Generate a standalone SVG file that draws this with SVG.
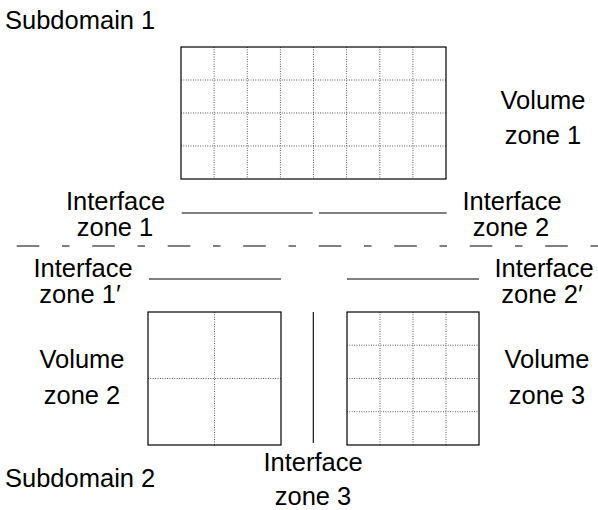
<svg xmlns="http://www.w3.org/2000/svg" width="598" height="510" viewBox="0 0 598 510">
  <style>
    .lbl { font-family: "Liberation Sans", Arial, sans-serif; font-size: 25.5px; fill: #000; }
    .mid { text-anchor: middle; }
    .frame { fill: #fff; stroke: #000; stroke-width: 1.2; }
    .grid { fill: none; stroke: #000; stroke-width: 0.8; stroke-dasharray: 0.8 1.6; }
    .iface { stroke: #000; stroke-width: 1.1; fill: none; }
    .cut { stroke: #000; stroke-width: 1.1; fill: none; stroke-dasharray: 22.6 22.7 7.5 22.7; }
  </style>

  <!-- Subdomain 1: volume zone 1 with 8x4 cells -->
  <g id="volume-zone-1">
    <rect class="frame" x="181" y="47" width="265" height="132"/>
    <path class="grid" d="M214.1 47V179M247.3 47V179M280.4 47V179M313.5 47V179M346.6 47V179M379.8 47V179M412.9 47V179M181 80H446M181 113H446M181 146H446"/>
    <text class="lbl mid" x="543" y="109">Volume</text>
    <text class="lbl mid" x="543" y="144">zone 1</text>
  </g>

  <g id="subdomain-1"><text class="lbl" x="5" y="29">Subdomain 1</text></g>

  <g id="interface-zone-1">
    <text class="lbl mid" x="115.5" y="210">Interface</text>
    <text class="lbl mid" x="115" y="235.5">zone 1</text>
  </g>
  <g id="interface-zone-2">
    <text class="lbl mid" x="512" y="210">Interface</text>
    <text class="lbl mid" x="511" y="235.5">zone 2</text>
  </g>

  <g id="interface-zone-1p">
    <text class="lbl mid" x="83" y="277">Interface</text>
    <text class="lbl mid" x="80" y="302.5">zone 1′</text>
  </g>
  <g id="interface-zone-2p">
    <text class="lbl mid" x="544" y="277">Interface</text>
    <text class="lbl mid" x="542" y="302.5">zone 2′</text>
  </g>

  <!-- Subdomain 2: volume zone 2 with 2x2 cells -->
  <g id="volume-zone-2">
    <rect class="frame" x="148" y="312" width="133" height="133"/>
    <path class="grid" d="M214.5 312V445M148 378.5H281"/>
    <text class="lbl mid" x="82" y="368">Volume</text>
    <text class="lbl mid" x="82" y="404">zone 2</text>
  </g>

  <!-- Subdomain 2: volume zone 3 with 4x4 cells -->
  <g id="volume-zone-3">
    <rect class="frame" x="347" y="312" width="132" height="133"/>
    <path class="grid" d="M380 312V445M413 312V445M446 312V445M347 345.2H479M347 378.5H479M347 411.7H479"/>
    <text class="lbl mid" x="547" y="368">Volume</text>
    <text class="lbl mid" x="547" y="404">zone 3</text>
  </g>

  <g id="interface-zone-3">
    <text class="lbl mid" x="313" y="471">Interface</text>
    <text class="lbl mid" x="313" y="505">zone 3</text>
  </g>

  <g id="subdomain-2"><text class="lbl" x="5" y="487">Subdomain 2</text></g>

  <!-- interface segments and subdomain cut -->
  <g id="connectors">
    <path class="iface" d="M181.7 213H312.7M319 213H446.7"/>
    <path class="cut" d="M16.7 246H598"/>
    <path class="iface" d="M149 279H281M347 279H479"/>
    <path class="iface" d="M313.3 312V443"/>
  </g>
</svg>
